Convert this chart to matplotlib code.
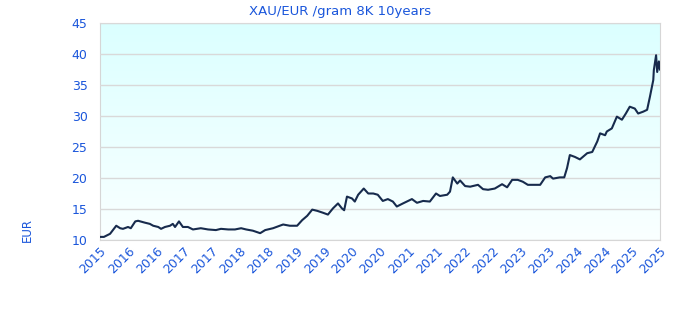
import numpy as np
from matplotlib import pyplot as plt

# decimal years and price in EUR per gram (8K)
years = [2015.75, 2015.82, 2015.93, 2016.04, 2016.11, 2016.16, 2016.25, 2016.30, 2016.38, 2016.43,
         2016.55, 2016.64, 2016.70, 2016.79, 2016.84, 2016.91, 2017.00, 2017.05, 2017.09, 2017.16,
         2017.23, 2017.32, 2017.41, 2017.55, 2017.68, 2017.82, 2017.91, 2018.04, 2018.16, 2018.27,
         2018.36, 2018.48, 2018.61, 2018.70, 2018.84, 2019.02, 2019.14, 2019.27, 2019.36, 2019.45,
         2019.54, 2019.63, 2019.73, 2019.82, 2019.91, 2020.00, 2020.07, 2020.11, 2020.16, 2020.25,
         2020.30, 2020.36, 2020.46, 2020.54, 2020.63, 2020.71, 2020.80, 2020.89, 2020.98, 2021.05,
         2021.16, 2021.32, 2021.41, 2021.52, 2021.64, 2021.75, 2021.82, 2021.95, 2022.00, 2022.05,
         2022.13, 2022.18, 2022.27, 2022.36, 2022.50, 2022.59, 2022.68, 2022.80, 2022.93, 2023.02,
         2023.11, 2023.21, 2023.30, 2023.39, 2023.48, 2023.61, 2023.70, 2023.79, 2023.84, 2023.96,
         2024.04, 2024.09, 2024.14, 2024.23, 2024.32, 2024.45, 2024.54, 2024.63, 2024.68, 2024.77,
         2024.80, 2024.89, 2024.98, 2025.07, 2025.14, 2025.21, 2025.30, 2025.36, 2025.45, 2025.52,
         2025.57, 2025.63, 2025.64, 2025.68, 2025.70, 2025.73, 2025.75]
prices = [10.5, 10.5, 11.0, 12.3, 11.9, 11.8, 12.1, 11.9, 13.0, 13.1,
          12.8, 12.6, 12.3, 12.1, 11.8, 12.1, 12.3, 12.6, 12.1, 13.0,
          12.1, 12.1, 11.7, 11.9, 11.7, 11.6, 11.8, 11.7, 11.7, 11.9,
          11.7, 11.5, 11.1, 11.6, 11.9, 12.5, 12.3, 12.3, 13.2, 13.9,
          14.9, 14.7, 14.4, 14.1, 15.1, 15.9, 15.1, 14.8, 17.0, 16.7,
          16.2, 17.3, 18.3, 17.5, 17.5, 17.3, 16.3, 16.6, 16.2, 15.4,
          15.9, 16.6, 16.0, 16.3, 16.2, 17.5, 17.1, 17.3, 17.8, 20.1,
          19.1, 19.6, 18.7, 18.6, 18.9, 18.2, 18.1, 18.3, 19.0, 18.5,
          19.7, 19.7, 19.4, 18.9, 18.9, 18.9, 20.1, 20.3, 19.9, 20.1,
          20.1, 21.6, 23.7, 23.4, 23.0, 24.0, 24.2, 25.9, 27.2, 26.9,
          27.5, 28.0, 29.9, 29.4, 30.4, 31.5, 31.2, 30.4, 30.7, 31.0,
          33.1, 35.8, 37.4, 39.8, 37.1, 38.8, 37.5]

tick_pos = [2015.75 + 0.5 * k for k in range(21)]
tick_labels = ["2015", "2016", "2016", "2017", "2017", "2018", "2018", "2019", "2019", "2020",
               "2020", "2021", "2021", "2022", "2022", "2023", "2023", "2024", "2024", "2025", "2025"]
y_ticks = [10, 15, 20, 25, 30, 35, 40, 45]

blue = "#1a56db"
fig = plt.figure(figsize=(6.8, 3.2), dpi=100)
ax = fig.add_axes([100 / 680, 80 / 320, 560 / 680, 217 / 320])

# vertical gradient background: light cyan at top, almost white at bottom
grad = np.linspace(0, 1, 256).reshape(-1, 1)
top = np.array([0.86, 1.0, 1.0])
bottom = np.array([0.98, 1.0, 1.0])
img = top * (1 - grad)[..., None] + bottom * grad[..., None]
img = img.reshape(256, 1, 3)
ax.imshow(img, extent=[0, 1, 0, 1], transform=ax.transAxes, aspect="auto", zorder=0)

ax.plot(years, prices, color="#172b4d", lw=1.5, zorder=3)

ax.set_xlim(2015.75, 2025.75)
ax.set_ylim(10, 45)
ax.set_yticks(y_ticks)
ax.set_xticks(tick_pos)
ax.grid(axis="y", color="#d9d9d9", lw=1)
ax.set_axisbelow(False)
ax.tick_params(length=0, labelcolor=blue, labelsize=9)
ax.tick_params(axis="x", pad=3)
ax.tick_params(axis="y", pad=9)
# year labels slanted 45 degrees, anchored at their tick
ax.set_xticklabels(tick_labels, rotation=45, ha="right", va="top", rotation_mode="anchor")
for s in ax.spines.values():
    s.set_color("#d6d6d6")

fig.text(0.5, 1 - 11 / 320, "XAU/EUR /gram 8K 10years", color=blue, fontsize=9.5,
         ha="center", va="center")
fig.text(27 / 680, 0.28, "EUR", color=blue, fontsize=8.5, rotation=90, ha="center", va="center")

fig.savefig("out.png")
